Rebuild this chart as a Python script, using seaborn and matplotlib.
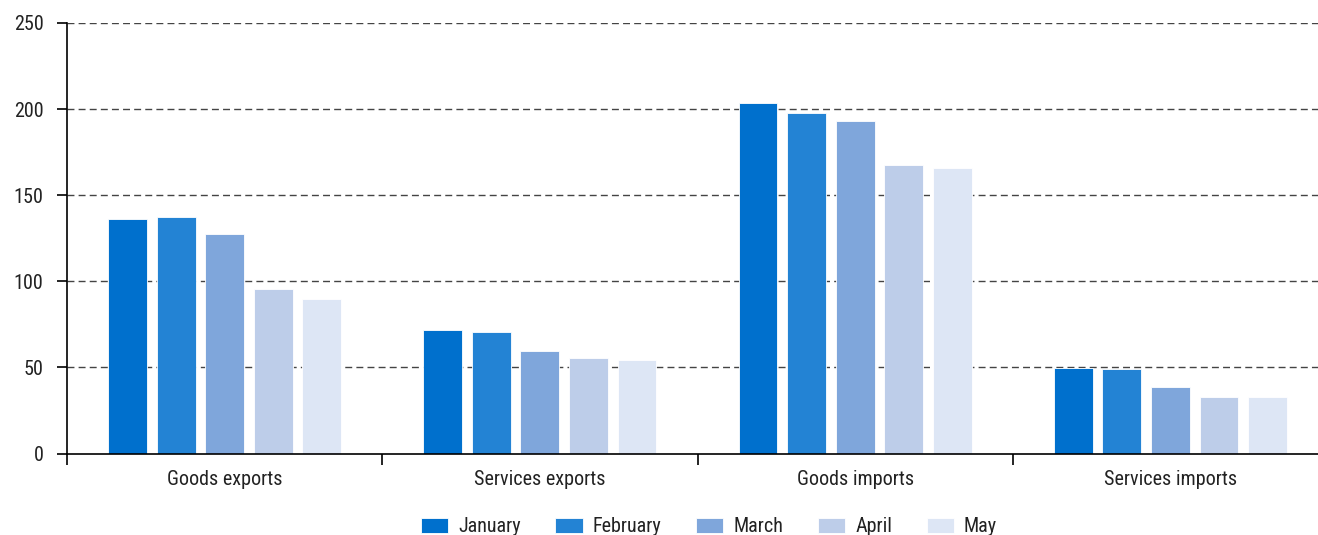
import matplotlib
matplotlib.use("Agg")
import matplotlib.pyplot as plt
import seaborn as sns
import pandas as pd
from matplotlib.ticker import FixedLocator

categories = ["Goods exports", "Services exports", "Goods imports", "Services imports"]
months = ["January", "February", "March", "April", "May"]
january = [136.1, 71.5, 203.7, 49.8]
february = [137.3, 70.7, 198.0, 48.8]
march = [127.6, 59.3, 193.2, 38.4]
april = [95.4, 55.4, 167.6, 32.7]
may = [89.8, 54.4, 165.6, 32.7]
y_ticks = [0, 50, 100, 150, 200, 250]

colors = ["#0070CD", "#2383D4", "#7FA6DB", "#BDCDE9", "#DDE6F5"]

rows = []
for month, vals in zip(months, [january, february, march, april, may]):
    for cat, v in zip(categories, vals):
        rows.append({"category": cat, "month": month, "value": v})
df = pd.DataFrame(rows)

sns.set_theme(style="white")
plt.rcParams["font.family"] = ["Roboto Condensed", "DejaVu Sans"]

fig = plt.figure(figsize=(13.18, 5.35), dpi=100)
ax = fig.add_axes([67 / 1318, 1 - 453.5 / 535, 1 - 67 / 1318, (453.5 - 23) / 535])

sns.barplot(data=df, x="category", y="value", hue="month", order=categories,
            hue_order=months, palette=colors, saturation=1, width=0.77, gap=0.2,
            edgecolor="white", linewidth=0.6, ax=ax, legend=True)

ax.set_xlim(-0.5, 3.468)
ax.set_ylim(0, 250)
ax.set_yticks(y_ticks)
ax.set_xlabel("")
ax.set_ylabel("")

# dashed horizontal grid
for t in y_ticks[1:]:
    ax.axhline(t, color="#444444", linestyle=(0, (5, 3)), linewidth=1.0, zorder=0)

for s in ["top", "right"]:
    ax.spines[s].set_visible(False)
for s in ["left", "bottom"]:
    ax.spines[s].set_color("black")
    ax.spines[s].set_linewidth(1.2)

ax.tick_params(axis="y", which="major", length=7, width=1.2, color="black",
               labelsize=14.5, labelcolor="#222222", pad=10, left=True)
ax.tick_params(axis="x", which="major", length=0, labelsize=14.5,
               labelcolor="#222222", pad=12)
ax.xaxis.set_minor_locator(FixedLocator([-0.5, 0.5, 1.5, 2.5]))
ax.tick_params(axis="x", which="minor", length=8, width=1.2, color="black", bottom=True)

handles, labels = ax.get_legend_handles_labels()
ax.legend_.remove()
fig.legend(handles, labels, loc="center", bbox_to_anchor=(709 / 1318, 1 - 527 / 535),
           ncol=5, frameon=False, fontsize=14.5, handlelength=1.35, handleheight=0.8,
           handletextpad=0.5, columnspacing=1.72, labelcolor="#222222")

fig.savefig("out.png", dpi=100)
